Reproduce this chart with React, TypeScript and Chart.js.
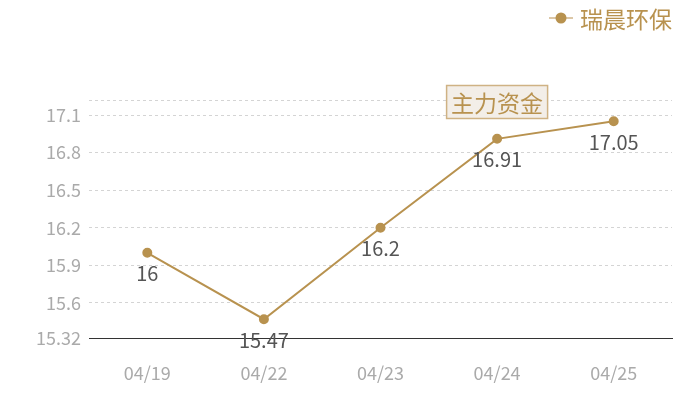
import { useEffect, useRef } from "react";
import { Chart, registerables } from "chart.js";

Chart.register(...registerables);

const dates = ["04/19", "04/22", "04/23", "04/24", "04/25"];
const prices = [16, 15.47, 16.2, 16.91, 17.05];
const yTicks = [15.32, 15.6, 15.9, 16.2, 16.5, 16.8, 17.1, 17.22];
const seriesName = "瑞晨环保";
const badgeText = "主力资金";
const badgeIndex = 3;

const GOLD = "#b8924f";
const FONT = "'Noto Sans CJK SC', 'Noto Sans', sans-serif";

const overlay = {
  id: "overlay",
  afterDatasetsDraw(chart: Chart) {
    const { ctx, scales, chartArea } = chart;
    const meta = chart.getDatasetMeta(0);
    ctx.save();

    // value labels below each point
    ctx.font = `20px ${FONT}`;
    ctx.fillStyle = "#555555";
    ctx.textAlign = "center";
    ctx.textBaseline = "middle";
    meta.data.forEach((pt, i) => {
      ctx.fillText(String(prices[i]), pt.x, pt.y + 21);
    });

    // badge
    const bx = scales.x.getPixelForValue(badgeIndex);
    const by = chartArea.top + 2;
    ctx.font = `23px ${FONT}`;
    const w = 101;
    const h = 33;
    ctx.fillStyle = "#f3eee8";
    ctx.fillRect(bx - w / 2, by - h / 2, w, h);
    ctx.strokeStyle = "#cfb284";
    ctx.lineWidth = 1.5;
    ctx.strokeRect(bx - w / 2, by - h / 2, w, h);
    ctx.fillStyle = GOLD;
    ctx.fillText(badgeText, bx, by + 1);

    // legend
    const lx = 561;
    const ly = 18;
    ctx.strokeStyle = "#d0b58a";
    ctx.lineWidth = 1.5;
    ctx.beginPath();
    ctx.moveTo(lx - 12, ly);
    ctx.lineTo(lx + 12, ly);
    ctx.stroke();
    ctx.fillStyle = GOLD;
    ctx.beginPath();
    ctx.arc(lx, ly, 5.5, 0, Math.PI * 2);
    ctx.fill();
    ctx.font = `23px ${FONT}`;
    ctx.textAlign = "left";
    ctx.fillText(seriesName, 580, ly + 1);

    ctx.restore();
  },
};

export default function App() {
  const canvasRef = useRef<HTMLCanvasElement>(null);

  useEffect(() => {
    document.body.style.margin = "0";
    if (!canvasRef.current) return;
    const chart = new Chart(canvasRef.current, {
      type: "line",
      data: {
        labels: dates,
        datasets: [
          {
            label: seriesName,
            data: prices,
            borderColor: GOLD,
            backgroundColor: GOLD,
            borderWidth: 2,
            pointRadius: 4,
            pointHoverRadius: 4,
            tension: 0,
          },
        ],
      },
      options: {
        animation: false,
        responsive: false,
        layout: { padding: { top: 100, right: 28, left: 0, bottom: 0 } },
        plugins: {
          legend: { display: false },
          tooltip: { enabled: false },
        },
        scales: {
          x: {
            offset: true,
            grid: { display: false, drawTicks: false },
            border: { display: true, color: "#333333", width: 1 },
            ticks: {
              color: "#aaaaaa",
              font: { family: FONT, size: 18 },
              padding: 24,
            },
            afterFit(axis: any) {
              axis.height = 62;
            },
          },
          y: {
            min: 15.32,
            max: 17.22,
            afterBuildTicks(axis: any) {
              axis.ticks = yTicks.map((v) => ({ value: v }));
            },
            afterFit(axis: any) {
              axis.width = 89;
            },
            grid: {
              drawTicks: false,
              color: (c: any) => (c.index === 0 ? "rgba(0,0,0,0)" : "#d4d4d4"),
            },
            border: { display: false, dash: [3, 3] },
            ticks: {
              color: "#aaaaaa",
              font: { family: FONT, size: 18 },
              padding: 8,
              callback: (v: any) => (v === 17.22 ? "" : String(v)),
            },
          },
        },
      },
      plugins: [overlay],
    });
    return () => chart.destroy();
  }, []);

  return (
    <div style={{ width: 700, height: 400 }}>
      <canvas ref={canvasRef} width={700} height={400} />
    </div>
  );
}
